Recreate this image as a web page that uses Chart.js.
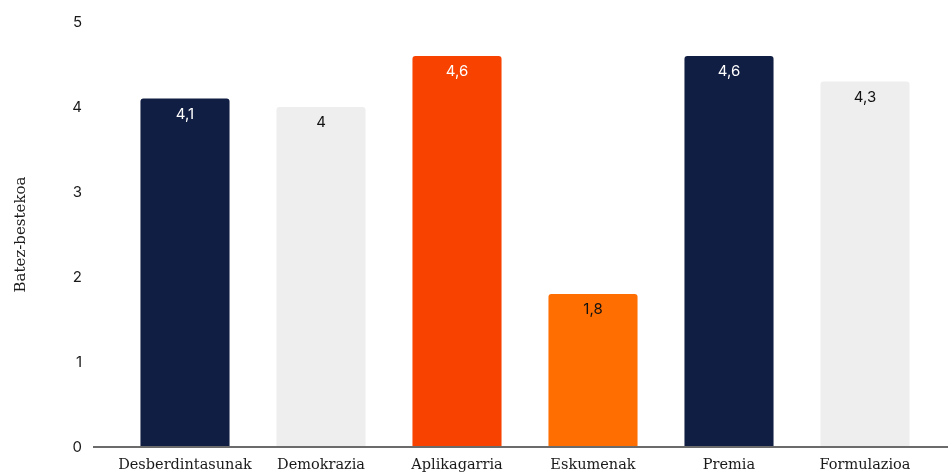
<!DOCTYPE html>
<html>
<head>
<meta charset="utf-8">
<script src="https://cdn.jsdelivr.net/npm/chart.js@4/dist/chart.umd.min.js"></script>
<style>
html,body{margin:0;padding:0;background:#fff;overflow:hidden;}
canvas{display:block;}
</style>
</head>
<body>
<canvas id="c" width="948" height="472" style="width:948px;height:472px"></canvas>
<script>
const categories = ["Desberdintasunak","Demokrazia","Aplikagarria","Eskumenak","Premia","Formulazioa"];
const values = [4.1, 4.0, 4.6, 1.8, 4.6, 4.3];
const barColors = ["#111e43","#eeeeee","#f84300","#ff6e00","#111e43","#eeeeee"];
const labelColors = ["#ffffff","#111111","#ffffff","#111111","#ffffff","#111111"];
const yTicks = [0,1,2,3,4,5];
const yTitle = "Batez-bestekoa";

const valueLabels = {
  id: 'valueLabels',
  afterDatasetsDraw(chart) {
    const ctx = chart.ctx;
    const meta = chart.getDatasetMeta(0);
    ctx.save();
    ctx.font = '15px Inter, "Noto Sans", sans-serif';
    ctx.textAlign = 'center';
    ctx.textBaseline = 'top';
    meta.data.forEach((bar, i) => {
      ctx.fillStyle = labelColors[i];
      ctx.fillText(String(values[i]).replace('.', ','), bar.x, bar.y + 8);
    });
    ctx.restore();
  }
};
const baseline = {
  id: 'baseline',
  afterDatasetsDraw(chart) {
    const ctx = chart.ctx;
    const y = chart.scales.y.getPixelForValue(0);
    ctx.save();
    ctx.strokeStyle = '#6b6b6b';
    ctx.lineWidth = 2;
    ctx.beginPath();
    ctx.moveTo(chart.chartArea.left - 24, y);
    ctx.lineTo(chart.width, y);
    ctx.stroke();
    ctx.restore();
  }
};

new Chart(document.getElementById('c'), {
  type: 'bar',
  data: {
    labels: categories,
    datasets: [{
      data: values,
      backgroundColor: barColors,
      borderRadius: {topLeft: 3, topRight: 3, bottomLeft: 0, bottomRight: 0},
      borderSkipped: 'bottom',
      barPercentage: 0.655,
      categoryPercentage: 1.0
    }]
  },
  options: {
    responsive: false,
    animation: false,
    devicePixelRatio: 1,
    layout: { padding: { top: 22, right: 15, left: 0, bottom: 0 } },
    plugins: { legend: { display: false }, tooltip: { enabled: false } },
    scales: {
      x: {
        afterFit(s) { s.height = 25; s.paddingBottom = 0; },
        grid: { display: false, drawTicks: false },
        border: { display: false },
        ticks: {
          color: '#1a1a1a',
          font: { family: '"DejaVu Serif", serif', size: 14.5 },
          padding: 10,
          maxRotation: 0,
          autoSkip: false
        }
      },
      y: {
        min: 0, max: 5,
        afterFit(s) { s.width = 117; s.paddingTop = 0; s.paddingBottom = 0; },
        afterBuildTicks(s) { s.ticks = yTicks.map(v => ({ value: v })); },
        grid: { display: false },
        border: { display: false },
        ticks: {
          color: '#1a1a1a',
          font: { family: 'Inter, "Noto Sans", sans-serif', size: 15 },
          padding: 27
        },
        title: {
          display: true,
          text: yTitle,
          color: '#1a1a1a',
          font: { family: '"DejaVu Serif", serif', size: 15 },
          padding: { top: 12, bottom: 0 }
        }
      }
    }
  },
  plugins: [baseline, valueLabels]
});
</script>
</body>
</html>
